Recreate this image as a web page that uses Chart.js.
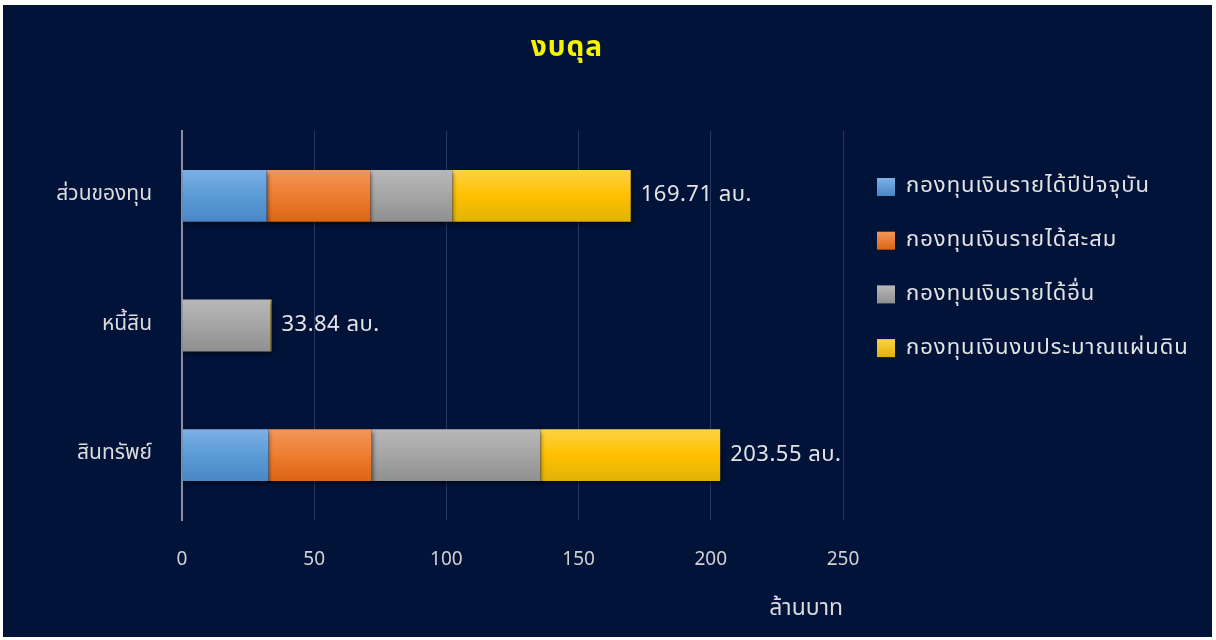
<!DOCTYPE html>
<html>
<head>
<meta charset="utf-8">
<script src="https://cdn.jsdelivr.net/npm/chart.js@4.4.1/dist/chart.umd.min.js"></script>
<style>
  html, body { margin: 0; padding: 0; background: #ffffff; }
  #wrap { position: absolute; left: 3px; top: 5px; width: 1209px; height: 632px; background: #02133a; }
  canvas { display: block; }
</style>
</head>
<body>
<div id="wrap"><canvas id="c"></canvas></div>
<script>
// ---- data ----
const categories = ['ส่วนของทุน', 'หนี้สิน', 'สินทรัพย์'];
const seriesNames = ['กองทุนเงินรายได้ปีปัจจุบัน', 'กองทุนเงินรายได้สะสม', 'กองทุนเงินรายได้อื่น', 'กองทุนเงินงบประมาณแผ่นดิน'];
const currentYearFund = [32.0, 0, 32.7];
const accumulatedFund = [39.2, 0, 39.0];
const otherIncomeFund = [31.0, 33.4, 63.8];
const stateBudgetFund = [67.51, 0.44, 68.05];
const xTicks = [0, 50, 100, 150, 200, 250];
const chartTitle = 'งบดุล';
const xAxisTitle = 'ล้านบาท';
const unitSuffix = ' ลบ.';

const FONT = "Tahoma, 'Noto Sans Thai', 'Noto Sans', 'DejaVu Sans', sans-serif";
const palette = [
  { base: '#5b9bd5', top: '#7db0e6', bottom: '#4a86c6' },
  { base: '#ed7d31', top: '#f2965a', bottom: '#dc6414' },
  { base: '#a5a5a5', top: '#b8b8b8', bottom: '#8f8f8f' },
  { base: '#ffc000', top: '#fdd245', bottom: '#e0b208' }
];

function barGradient(idx) {
  return function(ctx) {
    const chart = ctx.chart;
    if (!chart.chartArea || ctx.type !== 'data') return palette[idx].base;
    const y = chart.scales.y;
    const cy = y.getPixelForValue(ctx.dataIndex);
    const h = 52;
    const g = chart.ctx.createLinearGradient(0, cy - h / 2, 0, cy + h / 2);
    g.addColorStop(0, palette[idx].top);
    g.addColorStop(0.5, palette[idx].base);
    g.addColorStop(1, palette[idx].bottom);
    return g;
  };
}

const seriesValues = [currentYearFund, accumulatedFund, otherIncomeFund, stateBudgetFund];
const datasets = seriesValues.map((vals, i) => ({
  label: seriesNames[i],
  data: vals,
  backgroundColor: barGradient(i),
  borderWidth: 0,
  categoryPercentage: 0.8,
  barPercentage: 0.5
}));

const shadowPlugin = {
  id: 'shadow',
  beforeDatasetsDraw(chart) {
    const c = chart.ctx;
    c.save();
    c.shadowColor = 'rgba(0,0,0,0.55)';
    c.shadowBlur = 4;
    c.shadowOffsetX = 1;
    c.shadowOffsetY = 3;
  },
  afterDatasetsDraw(chart) {
    chart.ctx.restore();
  }
};

const decorPlugin = {
  id: 'decor',
  afterDraw(chart) {
    const c = chart.ctx;
    const area = chart.chartArea;
    const xs = chart.scales.x, ys = chart.scales.y;
    c.save();
    // totals labels
    c.font = '22px ' + FONT;
    c.letterSpacing = '0.5px';
    c.fillStyle = '#e4e4e4';
    c.textAlign = 'left';
    c.textBaseline = 'middle';
    categories.forEach((cat, i) => {
      const total = seriesValues.reduce((s, arr) => s + arr[i], 0);
      const px = xs.getPixelForValue(total);
      const py = ys.getPixelForValue(i);
      c.fillText(total.toFixed(2) + unitSuffix, px + 10, py + 1);
    });
    // title
    c.letterSpacing = '1px';
    c.font = 'bold 28px ' + FONT;
    c.fillStyle = '#f4f400';
    c.textAlign = 'center';
    c.fillText(chartTitle, 564, 45);
    // legend
    c.font = '22px ' + FONT;
    c.letterSpacing = '1px';
    c.textAlign = 'left';
    const lx = area.right + 34;
    const ly0 = 182, step = 53.7;
    seriesNames.forEach((name, i) => {
      const y = ly0 + i * step;
      const g = c.createLinearGradient(0, y - 9, 0, y + 9);
      g.addColorStop(0, palette[i].top);
      g.addColorStop(1, palette[i].bottom);
      c.fillStyle = g;
      c.fillRect(lx, y - 9, 18, 18);
      c.fillStyle = '#e4e4e4';
      c.fillText(name, lx + 29, y + 1);
    });
    c.restore();
  }
};

new Chart(document.getElementById('c'), {
  type: 'bar',
  data: { labels: categories, datasets },
  options: {
    indexAxis: 'y',
    responsive: true,
    maintainAspectRatio: false,
    animation: false,
    layout: { padding: { top: 126, right: 369, left: 0, bottom: 0 } },
    plugins: {
      legend: { display: false },
      title: { display: false },
      tooltip: { enabled: false }
    },
    scales: {
      x: {
        stacked: true,
        min: 0,
        max: 250,
        afterBuildTicks(scale) { scale.ticks = xTicks.map(v => ({ value: v })); },
        afterFit(scale) { scale.height = 117; },
        grid: { color: 'rgba(150,165,200,0.25)', lineWidth: 1, drawTicks: false },
        border: { display: false },
        ticks: { color: '#d0d0d0', font: { size: 19, family: FONT }, padding: 30 },
        title: {
          display: true, text: xAxisTitle, align: 'end',
          color: '#d9d9d9', font: { size: 23, family: FONT },
          padding: { top: 0, bottom: 13 }
        }
      },
      y: {
        stacked: true,
        afterFit(scale) { scale.width = 179; },
        grid: { display: false, drawTicks: false },
        border: { display: true, color: '#8a8f9c', width: 2 },
        ticks: { color: '#dcdcdc', font: { size: 21, family: FONT }, padding: 30 }
      }
    }
  },
  plugins: [shadowPlugin, decorPlugin]
});
</script>
</body>
</html>
